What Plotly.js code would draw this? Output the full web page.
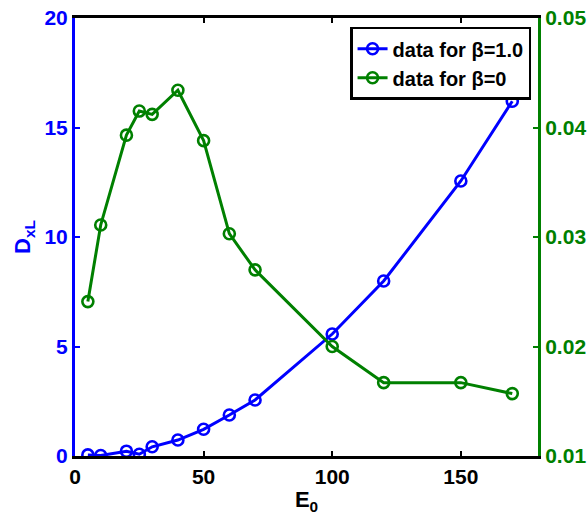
<!DOCTYPE html>
<html>
<head>
<meta charset="utf-8">
<script src="https://cdn.plot.ly/plotly-3.0.1.min.js"></script>
<style>
  html, body { margin: 0; padding: 0; background: #fff; }
  #chart { width: 588px; height: 515px; }
</style>
</head>
<body>
<div id="chart"></div>
<script>
// Beam energy E0 values shared by both series
const energies = [5, 10, 20, 25, 30, 40, 50, 60, 70, 100, 120, 150, 170];
// D_xL for beta = 1.0 (left axis)
const dxlBeta1 = [0.05, 0.02, 0.22, 0.08, 0.42, 0.73, 1.22, 1.87, 2.56, 5.57, 7.99, 12.56, 16.2];
// Values for beta = 0 (right axis)
const valBeta0 = [0.0241, 0.0311, 0.0393, 0.0415, 0.0412, 0.0434, 0.0388, 0.0303, 0.0270, 0.0200, 0.0167, 0.0167, 0.0157];

const xTicks = [0, 50, 100, 150];
const yTicks = [0, 5, 10, 15, 20];
const y2Ticks = [0.01, 0.02, 0.03, 0.04, 0.05];
const y2Labels = ['0.01', '0.02', '0.03', '0.04', '0.05'];

const BLUE = '#0000ff';
const GREEN = '#008000';
const FONT = 'Liberation Sans, Arial, sans-serif';

const traces = [
  {
    x: energies, y: dxlBeta1, name: '<b>data for β=1.0</b>',
    type: 'scatter', mode: 'lines+markers', yaxis: 'y',
    line: { color: BLUE, width: 3 },
    marker: { symbol: 'circle-open', size: 11, color: BLUE, line: { width: 2.6, color: BLUE } }
  },
  {
    x: energies, y: valBeta0, name: '<b>data for β=0</b>',
    type: 'scatter', mode: 'lines+markers', yaxis: 'y2',
    line: { color: GREEN, width: 3 },
    marker: { symbol: 'circle-open', size: 11, color: GREEN, line: { width: 2.6, color: GREEN } }
  }
];

const layout = {
  width: 588, height: 515,
  margin: { l: 75, r: 50, t: 18, b: 59 },
  paper_bgcolor: '#fff', plot_bgcolor: '#fff',
  font: { family: FONT, size: 20, color: '#000' },
  showlegend: true,
  legend: {
    x: 0.985, y: 0.98, xanchor: 'right', yanchor: 'top',
    bgcolor: '#fff', bordercolor: '#000', borderwidth: 2.5,
    font: { family: FONT, size: 20, color: '#000' },
    tracegroupgap: 0, itemwidth: 30
  },
  xaxis: {
    range: [0, 180], tickvals: xTicks, ticktext: xTicks.map(String),
    showline: true, linecolor: '#000', linewidth: 3, mirror: 'ticks',
    ticks: 'inside', ticklen: 5, tickwidth: 2, tickcolor: '#000',
    showgrid: false, zeroline: false,
    tickfont: { family: FONT, size: 21, color: '#000', weight: 'bold' },
    title: { text: '<b>E<sub>0</sub></b>', font: { family: FONT, size: 22, color: '#000' }, standoff: 0 }
  },
  yaxis: {
    range: [0, 20], tickvals: yTicks, ticktext: yTicks.map(String),
    showline: true, linecolor: BLUE, linewidth: 3,
    ticks: 'inside', ticklen: 5, tickwidth: 2, tickcolor: BLUE,
    showgrid: false, zeroline: false,
    tickfont: { family: FONT, size: 21, color: BLUE, weight: 'bold' },
    title: { text: '<b>D<sub>xL</sub></b>', font: { family: FONT, size: 22, color: BLUE }, standoff: 8 }
  },
  yaxis2: {
    range: [0.01, 0.05], tickvals: y2Ticks, ticktext: y2Labels,
    overlaying: 'y', side: 'right',
    showline: true, linecolor: GREEN, linewidth: 3,
    ticks: 'inside', ticklen: 5, tickwidth: 2, tickcolor: GREEN,
    showgrid: false, zeroline: false,
    tickfont: { family: FONT, size: 21, color: GREEN, weight: 'bold' }
  }
};

Plotly.newPlot('chart', traces, layout, { displayModeBar: false, staticPlot: true });
</script>
</body>
</html>
